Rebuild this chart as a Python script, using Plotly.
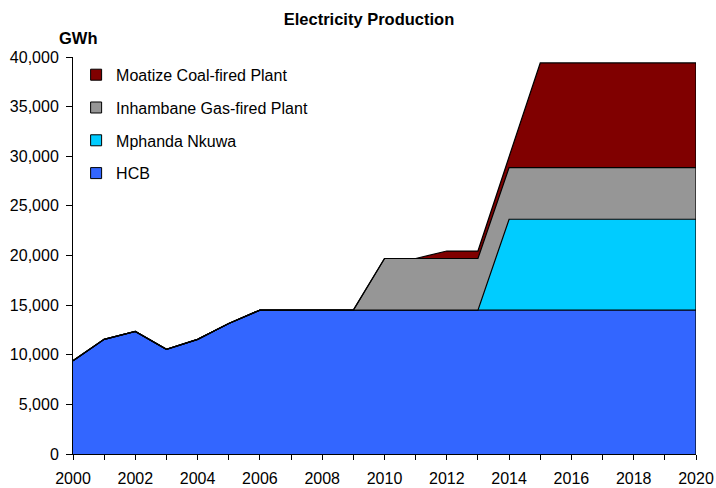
import plotly.graph_objects as go

years = list(range(2000, 2021))
hcb = [9400, 11550, 12350, 10550, 11550, 13150, 14500, 14500, 14500, 14500, 14500,
       14500, 14500, 14500, 14500, 14500, 14500, 14500, 14500, 14500, 14500]
mphanda = [0, 0, 0, 0, 0, 0, 0, 0, 0, 0, 0, 0, 0, 0, 9150, 9150, 9150, 9150, 9150, 9150, 9150]
inhambane = [0, 0, 0, 0, 0, 0, 0, 0, 0, 0, 5200, 5200, 5200, 5200, 5200, 5200, 5200, 5200, 5200, 5200, 5200]
moatize = [0, 0, 0, 0, 0, 0, 0, 0, 0, 0, 0, 0, 750, 750, 1100, 10550, 10550, 10550, 10550, 10550, 10550]

series = [
    ("HCB", hcb, "#3366FF"),
    ("Mphanda Nkuwa", mphanda, "#00CCFF"),
    ("Inhambane Gas-fired Plant", inhambane, "#969696"),
    ("Moatize Coal-fired Plant", moatize, "#800000"),
]

FONT = "Arial, Liberation Sans, sans-serif"
fig = go.Figure()
for name, vals, col in series:
    fig.add_trace(go.Scatter(
        x=years, y=vals, name=name, stackgroup="one", mode="lines",
        line=dict(color="black", width=1.2), fillcolor=col,
        showlegend=False, hoverinfo="x+y+name",
    ))

total = [sum(v) for v in zip(hcb, mphanda, inhambane, moatize)]
fig.add_trace(go.Scatter(x=[years[-1], years[-1]], y=[0, total[-1]], mode="lines",
                         line=dict(color="black", width=1.2), showlegend=False,
                         hoverinfo="skip"))

# legend entries (square swatches), top to bottom
for name, vals, col in reversed(series):
    fig.add_trace(go.Scatter(
        x=[None], y=[None], name=name, mode="markers",
        marker=dict(symbol="square", size=11, color=col, line=dict(color="black", width=1)),
        legendgroup=name, showlegend=True,
    ))

fig.update_layout(
    width=716, height=488,
    margin=dict(l=73, r=20, t=57, b=34, autoexpand=False),
    paper_bgcolor="white", plot_bgcolor="white",
    font=dict(family=FONT, size=16, color="black"),
    title=dict(text="<b>Electricity Production</b>", x=369/716, xanchor="center",
               y=1 - 19/488, yanchor="middle", font=dict(size=16.5, family=FONT)),
    showlegend=True,
    legend=dict(x=0.005, y=0.998, xanchor="left", yanchor="top",
                traceorder="grouped", tracegroupgap=9,
                font=dict(size=16, family=FONT), bgcolor="rgba(0,0,0,0)"),
    xaxis=dict(range=[2000, 2020], tick0=2000, dtick=2, ticks="outside", ticklen=5,
               showline=True, linecolor="black", linewidth=1, showgrid=False,
               zeroline=False, tickcolor="black", automargin=False, ticklabelstandoff=5,
               minor=dict(dtick=1, ticks="outside", ticklen=5, tickcolor="black", showgrid=False)),
    yaxis=dict(range=[0, 40000], dtick=5000, tickformat=",", ticks="outside", ticklen=6,
               showline=True, linecolor="black", linewidth=1, showgrid=False,
               zeroline=False, tickcolor="black", automargin=False, ticklabelstandoff=4),
    annotations=[dict(text="<b>GWh</b>", xref="paper", yref="paper",
                      x=(57-73)/623, y=(454-38)/397, xanchor="left", yanchor="middle",
                      showarrow=False, font=dict(size=16.5, family=FONT))],
)

fig.write_html("out.html", config={"displayModeBar": False},
               post_script="document.body.style.margin='0';")
